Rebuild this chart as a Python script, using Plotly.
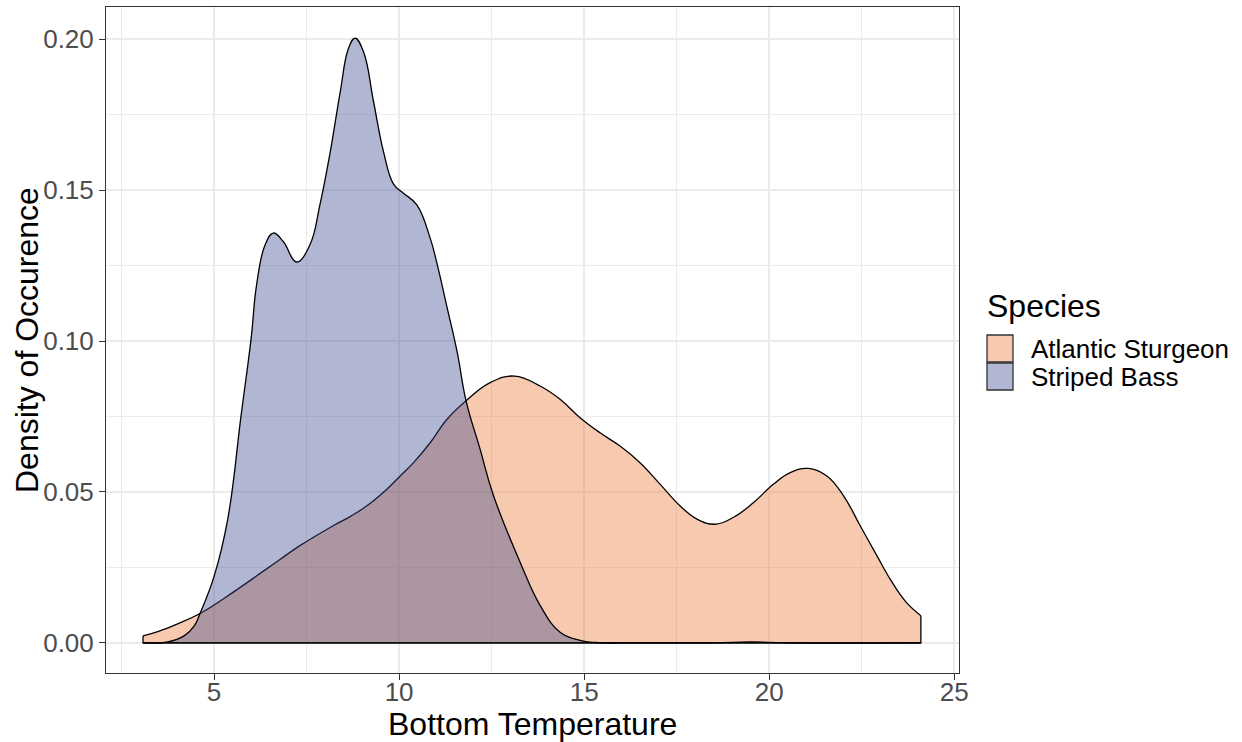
import plotly.graph_objects as go

# ---------------- data ----------------
species = ["Atlantic Sturgeon", "Striped Bass"]

sturgeon_temp = [3.08, 3.5, 4.0, 4.62, 5.52, 6.42, 6.78, 7.32, 8.22, 8.7, 9.13,
                 9.67, 10.03, 10.39, 10.84, 11.29, 11.81, 12.46, 13.12, 13.81, 14.35,
                 14.89, 15.43, 15.97, 16.51, 17.05, 17.59, 18.05, 18.54, 19.04, 19.58,
                 20.12, 20.57, 21.06, 21.56, 22.01, 22.46, 22.91, 23.3, 23.7, 24.1]
sturgeon_density = [0.0023, 0.0038, 0.0062, 0.0097, 0.0168, 0.0245, 0.0276, 0.0322, 0.0388, 0.0420, 0.0454,
                    0.0509, 0.0553, 0.0597, 0.0663, 0.0740, 0.0802, 0.0862, 0.0884, 0.0851, 0.0807,
                    0.0746, 0.0696, 0.0652, 0.0597, 0.0526, 0.0454, 0.0410, 0.0393, 0.0416, 0.0465,
                    0.0526, 0.0564, 0.0578, 0.0553, 0.0487, 0.0388, 0.0289, 0.0205, 0.0135, 0.0090]

bass_temp = [3.08, 3.75, 4.2, 4.47, 4.62, 5.0, 5.37, 5.73, 6.0, 6.15, 6.38, 6.6, 6.87,
             7.23, 7.59, 7.86, 8.14, 8.41, 8.63, 8.81, 9.04, 9.31, 9.58, 9.85, 10.12,
             10.48, 10.84, 11.02, 11.29, 11.57, 11.81, 12.19, 12.55, 13.27, 13.81, 14.35,
             14.89, 15.3, 16.5, 18.5, 19.5, 20.5, 24.1]
bass_density = [0.0, 0.0003, 0.0024, 0.0057, 0.0097, 0.022, 0.041, 0.0753, 0.1007, 0.1187, 0.1319, 0.1358, 0.1330,
                0.1262, 0.1319, 0.1451, 0.1627, 0.1826, 0.1969, 0.2004, 0.1958, 0.1793, 0.1627, 0.1520, 0.1490,
                0.1451, 0.1341, 0.1259, 0.1115, 0.0963, 0.0802, 0.0641, 0.0488, 0.0267, 0.0124, 0.0035,
                0.0008, 0.0001, 0.0, 0.0, 0.0003, 0.0, 0.0]

x_ticks = [5, 10, 15, 20, 25]
y_ticks = [0.00, 0.05, 0.10, 0.15, 0.20]
y_tick_labels = ["0.00", "0.05", "0.10", "0.15", "0.20"]

# ---------------- styling ----------------
FONT = "Liberation Sans, Arial, Helvetica, sans-serif"
STURGEON_FILL = "rgba(235,123,58,0.4)"
BASS_FILL = "rgba(60,73,142,0.4)"
OUTLINE = "black"

W, H = 1242, 742
L, R, T, B = 106, 959, 7, 673


def px_x(p):
    return (p - L) / (R - L)


def px_y(p):
    return (B - p) / (B - T)


fig = go.Figure()

series = [
    (species[0], sturgeon_temp, sturgeon_density, STURGEON_FILL),
    (species[1], bass_temp, bass_density, BASS_FILL),
]
for name, xs, ys, fill in series:
    fig.add_trace(go.Scatter(
        x=xs, y=ys, mode="lines", name=name, fill="tozeroy", fillcolor=fill,
        line=dict(color=OUTLINE, width=1.3, shape="spline", smoothing=1.2),
        showlegend=False, hoverinfo="skip",
    ))
    # closing edges of the density polygon (ends + baseline)
    fig.add_trace(go.Scatter(
        x=[xs[0], xs[0], xs[-1], xs[-1]], y=[ys[0], 0, 0, ys[-1]],
        mode="lines", line=dict(color=OUTLINE, width=1.3),
        showlegend=False, hoverinfo="skip",
    ))

axis_common = dict(
    showline=True, linecolor="#333333", linewidth=1, mirror=True,
    ticks="outside", ticklen=6, tickwidth=1.2, tickcolor="#333333",
    showgrid=True, gridcolor="#EBEBEB", gridwidth=1.5,
    zeroline=False,
    tickfont=dict(family=FONT, size=26, color="#4D4D4D"),
)

fig.update_xaxes(
    range=[2.08, 25.13], tickvals=x_ticks, ticklabelstandoff=-10,
    minor=dict(dtick=2.5, tick0=0, showgrid=True, gridcolor="#EBEBEB", gridwidth=0.8, ticks=""),
    **axis_common,
)
fig.update_yaxes(
    range=[-0.0100, 0.2107], tickvals=y_ticks, ticktext=y_tick_labels,
    minor=dict(dtick=0.025, tick0=0, showgrid=True, gridcolor="#EBEBEB", gridwidth=0.8, ticks=""),
    **axis_common,
)

annotations = [
    dict(text="Bottom Temperature", x=0.5, y=px_y(724), xref="paper", yref="paper",
         xanchor="center", yanchor="middle", showarrow=False,
         font=dict(family=FONT, size=32, color="black")),
    dict(text="Density of Occurence", x=px_x(27), y=px_y(340), xref="paper", yref="paper",
         xanchor="center", yanchor="middle", showarrow=False, textangle=-90,
         font=dict(family=FONT, size=32, color="black")),
    dict(text="Species", x=px_x(985), y=px_y(306), xref="paper", yref="paper",
         xanchor="left", yanchor="middle", showarrow=False,
         font=dict(family=FONT, size=32, color="black")),
]
shapes = []
key_tops = [335, 363]
for name, fill, top in zip(species, [STURGEON_FILL, BASS_FILL], key_tops):
    shapes.append(dict(type="rect", xref="paper", yref="paper",
                       x0=px_x(987), x1=px_x(1013), y0=px_y(top), y1=px_y(top + 27),
                       fillcolor=fill, line=dict(color="#333333", width=1.3)))
    annotations.append(dict(text=name, x=px_x(1029), y=px_y(top + 13.5), xref="paper", yref="paper",
                            xanchor="left", yanchor="middle", showarrow=False,
                            font=dict(family=FONT, size=26, color="black")))

fig.update_layout(
    width=W, height=H,
    margin=dict(l=L, r=W - R, t=T, b=H - B),
    paper_bgcolor="white", plot_bgcolor="white",
    showlegend=False,
    annotations=annotations, shapes=shapes,
    font=dict(family=FONT),
)

fig.write_html("out.html")
